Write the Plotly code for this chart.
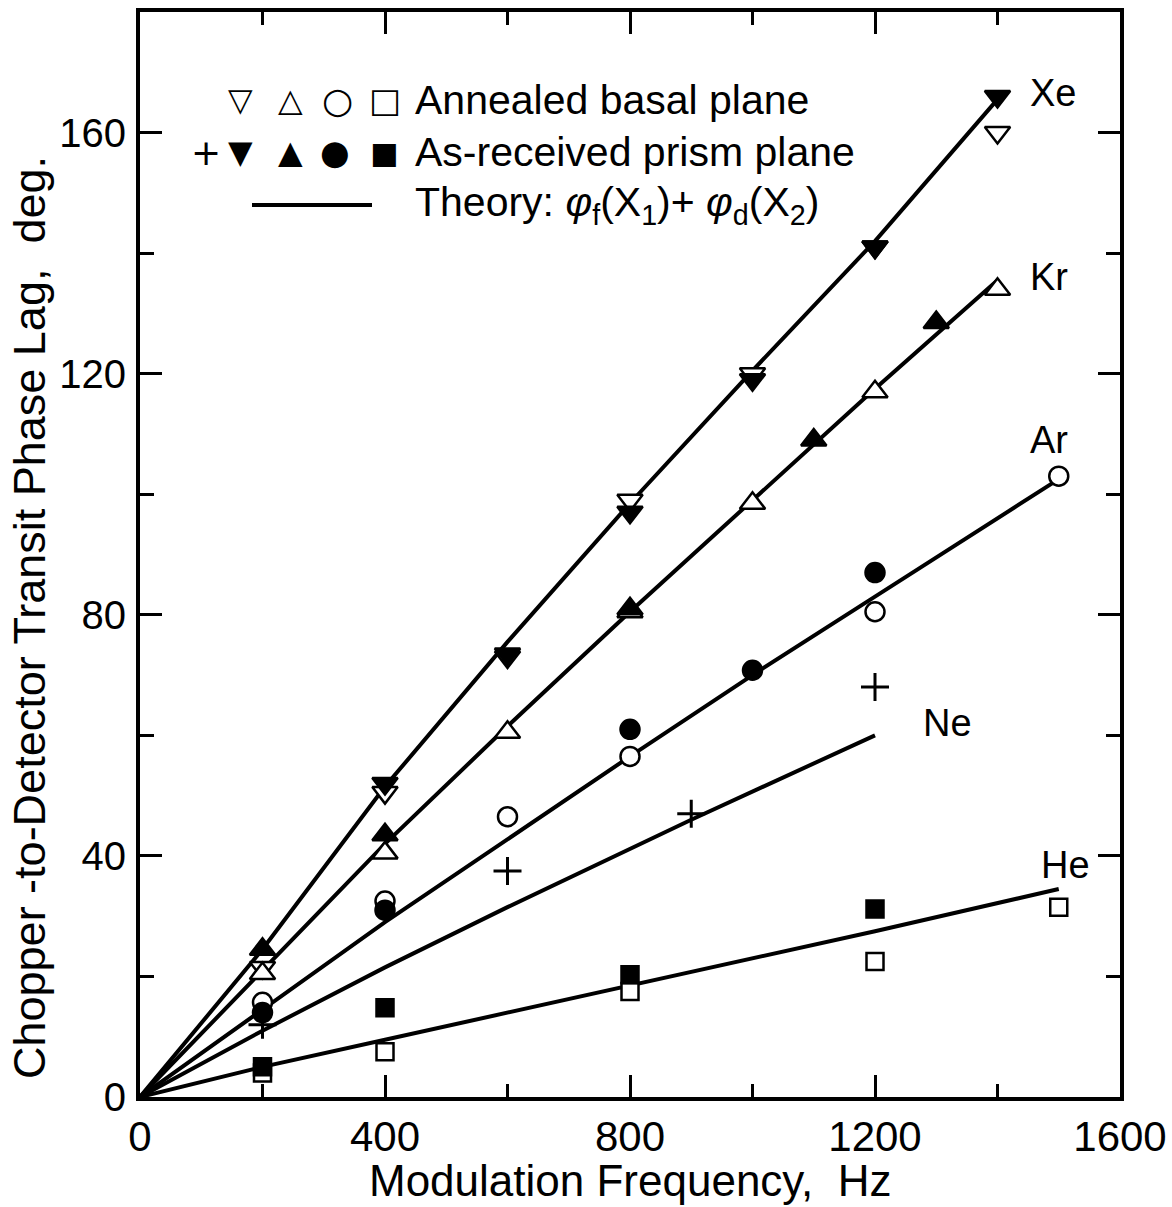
import plotly.graph_objects as go

# ---------------- data ----------------
freq_xe = [200, 400, 600, 800, 1000, 1200, 1400]
xe_basal = [21.5, 50.5, 73, 99, 120, 141, 160]
xe_prism_f = [400, 600, 800, 1000, 1200, 1400]
xe_prism = [52, 73.5, 97, 119, 141, 166]

freq_kr = [200, 400, 600, 800, 1000, 1200, 1400]
kr_basal = [20.5, 40.5, 60.5, 80.5, 98.5, 117, 134]
kr_prism_f = [200, 400, 800, 1100, 1300]
kr_prism = [24.5, 43.5, 81, 109, 128.5]

ar_basal_f = [200, 400, 600, 800, 1200, 1500]
ar_basal = [15.7, 32.5, 46.5, 56.5, 80.5, 103]
ar_prism_f = [200, 400, 800, 1000, 1200]
ar_prism = [14, 31, 61, 70.8, 87]

ne_prism_f = [200, 600, 900, 1200]
ne_prism = [12, 37.5, 47, 68]

he_basal_f = [200, 400, 800, 1200, 1500]
he_basal = [4, 7.5, 17.5, 22.5, 31.5]
he_prism_f = [200, 400, 800, 1200]
he_prism = [5, 14.8, 20.3, 31.2]

# theory curves
th_xe_f = [0, 200, 400, 600, 800, 1000, 1200, 1400]
th_xe = [0, 24.5, 51.5, 75.5, 98.5, 120.5, 142, 165.5]
th_kr_f = [0, 200, 400, 600, 800, 1000, 1200, 1400]
th_kr = [0, 21, 42, 61.5, 80.5, 99, 117.5, 135.5]
th_ar_f = [0, 200, 400, 800, 1000, 1200, 1500]
th_ar = [0, 14.5, 29, 56.5, 70, 83, 102.5]
th_ne_f = [0, 200, 400, 600, 900, 1200]
th_ne = [0, 11, 21.5, 31.5, 46, 60]
th_he_f = [0, 200, 400, 800, 1200, 1500]
th_he = [0, 5, 9.5, 18.5, 27.5, 34.5]

gas_labels = ["Xe", "Kr", "Ar", "Ne", "He"]
gas_label_x = [1450, 1450, 1450, 1275, 1468]
gas_label_y = [166.5, 136, 109, 62, 38.5]

x_ticks = [0, 400, 800, 1200, 1600]
y_ticks = [0, 40, 80, 120, 160]

x_title = "Modulation Frequency,  Hz"
y_title = "Chopper -to-Detector Transit Phase Lag,  deg."

legend_row1_glyphs = ["▽", "△", "○", "□"]
legend_row2_glyphs = ["+", "▼", "▲", "●", "■"]
legend_texts = ["Annealed basal plane", "As-received prism plane",
                "Theory: <i>φ</i><sub>f</sub>(X<sub>1</sub>)+ <i>φ</i><sub>d</sub>(X<sub>2</sub>)"]

FONT = "Liberation Sans"
fig = go.Figure()

for fx, fy in [(th_xe_f, th_xe), (th_kr_f, th_kr), (th_ar_f, th_ar),
               (th_ne_f, th_ne), (th_he_f, th_he)]:
    fig.add_trace(go.Scatter(x=fx, y=fy, mode="lines",
                             line=dict(color="black", width=4),
                             showlegend=False, hoverinfo="skip"))

def pts(x, y, symbol, filled, size):
    fig.add_trace(go.Scatter(
        x=x, y=y, mode="markers", showlegend=False,
        marker=dict(symbol=symbol, size=size,
                    color="black" if filled else "white",
                    line=dict(color="black", width=2.5))))

# annealed basal plane (open)
pts(freq_xe, xe_basal, "triangle-down", False, 22)
pts(freq_kr, kr_basal, "triangle-up", False, 22)
pts(ar_basal_f, ar_basal, "circle", False, 19)
pts(he_basal_f, he_basal, "square", False, 17)
# as-received prism plane (filled)
pts(xe_prism_f, xe_prism, "triangle-down", True, 22)
pts(kr_prism_f, kr_prism, "triangle-up", True, 22)
pts(ar_prism_f, ar_prism, "circle", True, 19)
pts(he_prism_f, he_prism, "square", True, 17)
fig.add_trace(go.Scatter(x=ne_prism_f, y=ne_prism, mode="markers", showlegend=False,
                         marker=dict(symbol="cross-thin", size=20,
                                     line=dict(color="black", width=3))))

for t, gx, gy in zip(gas_labels, gas_label_x, gas_label_y):
    fig.add_annotation(x=gx, y=gy, text=t, showarrow=False, xanchor="left",
                       yanchor="middle", font=dict(family=FONT, size=38, color="black"))

# ---- helpers: pixel -> paper coordinates ----
def px_to_paper_x(p):
    return (p - 140) / 980.0

def px_to_paper_y(p):
    return (1097 - p) / 1085.0

# ---- legend drawn in the upper-left corner ----
row_y = [100, 152, 205]
glyph_sizes_1 = [32, 32, 36, 34]
glyph_x_1 = [240, 290, 337, 385]
glyph_sizes_2 = [36, 32, 32, 34, 30]
glyph_x_2 = [206, 240, 290, 335, 384]

for g, gx, gs in zip(legend_row1_glyphs, glyph_x_1, glyph_sizes_1):
    fig.add_annotation(xref="paper", yref="paper", x=px_to_paper_x(gx),
                       y=px_to_paper_y(row_y[0]), text=g, showarrow=False,
                       xanchor="center", yanchor="middle",
                       font=dict(family="DejaVu Sans", size=gs, color="black"))
for g, gx, gs in zip(legend_row2_glyphs, glyph_x_2, glyph_sizes_2):
    fig.add_annotation(xref="paper", yref="paper", x=px_to_paper_x(gx),
                       y=px_to_paper_y(row_y[1]), text=g, showarrow=False,
                       xanchor="center", yanchor="middle",
                       font=dict(family="DejaVu Sans", size=gs, color="black"))
fig.add_shape(type="line", xref="paper", yref="paper",
              x0=px_to_paper_x(252), x1=px_to_paper_x(372),
              y0=px_to_paper_y(row_y[2]), y1=px_to_paper_y(row_y[2]),
              line=dict(color="black", width=4))
for txt, ry in zip(legend_texts, row_y):
    fig.add_annotation(xref="paper", yref="paper", x=px_to_paper_x(413),
                       y=px_to_paper_y(ry), xanchor="left", yanchor="middle",
                       showarrow=False, text=txt,
                       font=dict(family=FONT, size=41, color="black"))

# ---- axis titles as annotations for precise placement ----
fig.add_annotation(xref="paper", yref="paper", x=px_to_paper_x(30),
                   y=px_to_paper_y(618), text=y_title, textangle=-90,
                   showarrow=False, xanchor="center", yanchor="middle",
                   font=dict(family=FONT, size=45, color="black"))
fig.add_annotation(xref="paper", yref="paper", x=px_to_paper_x(630),
                   y=px_to_paper_y(1180), text=x_title,
                   showarrow=False, xanchor="center", yanchor="middle",
                   font=dict(family=FONT, size=44, color="black"))

axis_common = dict(showline=True, linecolor="black", linewidth=4, mirror="ticks",
                   ticks="inside", tickcolor="black", tickwidth=3, ticklen=22,
                   showgrid=False, zeroline=False, automargin=False)

fig.update_xaxes(range=[0, 1600], tickvals=x_ticks, ticktext=[str(v) for v in x_ticks],
                 minor=dict(dtick=200, ticks="inside", ticklen=13, tickwidth=3,
                            tickcolor="black", showgrid=False),
                 tickfont=dict(family=FONT, size=42, color="black"),
                 **axis_common)
fig.update_yaxes(range=[0, 180], tickvals=y_ticks, ticktext=[str(v) for v in y_ticks],
                 minor=dict(dtick=20, ticks="inside", ticklen=14, tickwidth=3,
                            tickcolor="black", showgrid=False),
                 tickfont=dict(family=FONT, size=40, color="black"),
                 ticklabelstandoff=2,
                 **axis_common)

fig.update_layout(width=1172, height=1207, plot_bgcolor="white", paper_bgcolor="white",
                  margin=dict(l=140, r=52, t=12, b=110), showlegend=False)

fig.write_html("out.html")
